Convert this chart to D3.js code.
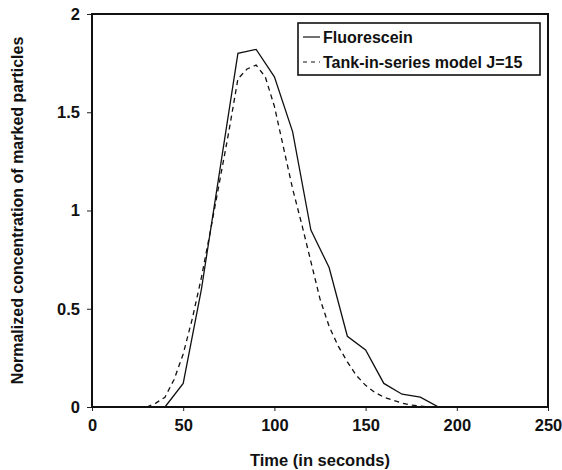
<!DOCTYPE html>
<html>
<head>
<meta charset="utf-8">
<script src="https://cdn.jsdelivr.net/npm/d3@7"></script>
<style>
  body { margin: 0; background: #fff; }
  svg text { font-family: "Liberation Sans", Arial, sans-serif; fill: #111; }
</style>
</head>
<body>
<svg id="chart" width="562" height="470"></svg>
<script>
// measured tracer curve (10 s sampling)
const fluoTime = [0, 10, 20, 30, 40, 50, 60, 70, 80, 90, 100, 110, 120, 130, 140, 150, 160, 170, 180, 190, 200, 210, 220, 230, 240, 250];
const fluoValue = [0, 0, 0, 0, 0, 0.12, 0.6, 1.2, 1.8, 1.82, 1.68, 1.4, 0.9, 0.71, 0.36, 0.29, 0.12, 0.065, 0.05, 0, 0, 0, 0, 0, 0, 0];

// tank-in-series model, J = 15
const modelTime = [30, 35, 40, 45, 50, 55, 60, 65, 70, 75, 80, 85, 90, 95, 100, 105, 110, 115, 120, 125, 130, 135, 140, 145, 150, 155, 160, 165, 170, 175, 180, 185, 190];
const modelValue = [0, 0.02, 0.05, 0.14, 0.27, 0.45, 0.66, 0.9, 1.15, 1.4, 1.67, 1.72, 1.74, 1.68, 1.53, 1.32, 1.11, 0.93, 0.74, 0.55, 0.41, 0.31, 0.23, 0.16, 0.11, 0.075, 0.05, 0.034, 0.02, 0.01, 0.005, 0, 0];

const xTicks = [0, 50, 100, 150, 200, 250];
const yTicks = [0, 0.5, 1, 1.5, 2];
const legendLabels = ["Fluorescein", "Tank-in-series model J=15"];

const svg = d3.select("#chart");
const margin = { top: 14, right: 14, bottom: 63, left: 92 };
const width = 562 - margin.left - margin.right;
const height = 470 - margin.top - margin.bottom;

const g = svg.append("g")
  .attr("transform", `translate(${margin.left},${margin.top})`);

const x = d3.scaleLinear().domain([0, 250]).range([0, width]);
const y = d3.scaleLinear().domain([0, 2]).range([height, 0]);

const line = d3.line()
  .x(d => x(d[0]))
  .y(d => y(d[1]));

// axes
const xAxis = g.append("g")
  .attr("transform", `translate(0,${height})`)
  .call(d3.axisBottom(x).tickValues(xTicks).tickSize(4).tickPadding(8).tickFormat(d3.format("d")));

const yAxis = g.append("g")
  .call(d3.axisLeft(y).tickValues(yTicks).tickSize(5).tickPadding(7).tickFormat(d => d));

[xAxis, yAxis].forEach(a => {
  a.select(".domain").remove();
  a.selectAll("line").attr("stroke", "#222").attr("stroke-width", 1);
  a.selectAll("text")
    .style("font-size", "16.5px")
    .style("font-weight", "bold")
    .attr("fill", "#111");
});

// series
g.append("path")
  .datum(d3.zip(modelTime, modelValue))
  .attr("fill", "none")
  .attr("stroke", "#111")
  .attr("stroke-width", 1.3)
  .attr("stroke-dasharray", "5,4")
  .attr("d", line);

g.append("path")
  .datum(d3.zip(fluoTime, fluoValue))
  .attr("fill", "none")
  .attr("stroke", "#111")
  .attr("stroke-width", 1.3)
  .attr("d", line);

// frame
g.append("rect")
  .attr("width", width)
  .attr("height", height)
  .attr("fill", "none")
  .attr("stroke", "#111")
  .attr("stroke-width", 2);

// legend
const legend = svg.append("g").attr("transform", "translate(298,23)");
legend.append("rect")
  .attr("width", 242)
  .attr("height", 52)
  .attr("fill", "#fff")
  .attr("stroke", "#111")
  .attr("stroke-width", 1.6);

legendLabels.forEach((label, i) => {
  const ly = 14 + i * 25;
  legend.append("line")
    .attr("x1", 5).attr("x2", 22)
    .attr("y1", ly).attr("y2", ly)
    .attr("stroke", "#111")
    .attr("stroke-width", 1.2)
    .attr("stroke-dasharray", i === 1 ? "4,4" : null);
  legend.append("text")
    .attr("x", 25)
    .attr("y", ly + 6)
    .style("font-size", "16px")
    .style("font-weight", "bold")
    .text(label);
});

// axis titles
svg.append("text")
  .attr("x", margin.left + width / 2)
  .attr("y", 466)
  .attr("text-anchor", "middle")
  .style("font-size", "16.5px")
  .style("font-weight", "bold")
  .text("Time (in seconds)");

svg.append("text")
  .attr("transform", `translate(23,${margin.top + height / 2}) rotate(-90)`)
  .attr("text-anchor", "middle")
  .style("font-size", "16px")
  .style("font-weight", "bold")
  .text("Normalized concentration of marked particles");
</script>
</body>
</html>
